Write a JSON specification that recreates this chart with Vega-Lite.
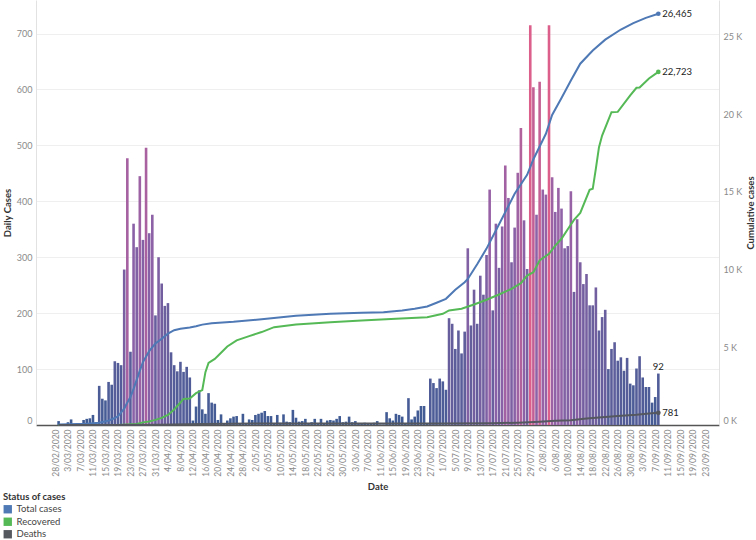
{
"$schema": "https://vega.github.io/schema/vega-lite/v6.json",
"width": 683, "height": 425,
"autosize": "none",
"padding": {"left": 36, "top": 0, "right": 37, "bottom": 115},
"background": "white",
"config": {"font": "Lato", "view": {"stroke": null}},
"datasets": {
"daily": [
{"date":"2020-02-29","cases":7},{"date":"2020-03-01","cases":0},{"date":"2020-03-02","cases":0},{"date":"2020-03-03","cases":5},{"date":"2020-03-04","cases":10},{"date":"2020-03-05","cases":0},{"date":"2020-03-06","cases":2},{"date":"2020-03-07","cases":0},{"date":"2020-03-08","cases":9},{"date":"2020-03-09","cases":11},{"date":"2020-03-10","cases":12},{"date":"2020-03-11","cases":18},{"date":"2020-03-12","cases":0},{"date":"2020-03-13","cases":70},{"date":"2020-03-14","cases":47},{"date":"2020-03-15","cases":44},{"date":"2020-03-16","cases":77},{"date":"2020-03-17","cases":72},{"date":"2020-03-18","cases":114},{"date":"2020-03-19","cases":111},{"date":"2020-03-20","cases":107},{"date":"2020-03-21","cases":278},{"date":"2020-03-22","cases":477},{"date":"2020-03-23","cases":131},{"date":"2020-03-24","cases":360},{"date":"2020-03-25","cases":318},{"date":"2020-03-26","cases":445},{"date":"2020-03-27","cases":331},{"date":"2020-03-28","cases":496},{"date":"2020-03-29","cases":343},{"date":"2020-03-30","cases":376},{"date":"2020-03-31","cases":196},
{"date":"2020-04-01","cases":300},{"date":"2020-04-02","cases":253},{"date":"2020-04-03","cases":213},{"date":"2020-04-04","cases":218},{"date":"2020-04-05","cases":130},{"date":"2020-04-06","cases":107},{"date":"2020-04-07","cases":96},{"date":"2020-04-08","cases":113},{"date":"2020-04-09","cases":95},{"date":"2020-04-10","cases":104},{"date":"2020-04-11","cases":85},{"date":"2020-04-12","cases":8},{"date":"2020-04-13","cases":33},{"date":"2020-04-14","cases":62},{"date":"2020-04-15","cases":28},{"date":"2020-04-16","cases":20},{"date":"2020-04-17","cases":57},{"date":"2020-04-18","cases":40},{"date":"2020-04-19","cases":38},{"date":"2020-04-20","cases":9},{"date":"2020-04-21","cases":19},{"date":"2020-04-22","cases":3},{"date":"2020-04-23","cases":8},{"date":"2020-04-24","cases":12},{"date":"2020-04-25","cases":15},{"date":"2020-04-26","cases":16},{"date":"2020-04-27","cases":2},{"date":"2020-04-28","cases":20},{"date":"2020-04-29","cases":3},{"date":"2020-04-30","cases":10},
{"date":"2020-05-01","cases":9},{"date":"2020-05-02","cases":18},{"date":"2020-05-03","cases":20},{"date":"2020-05-04","cases":22},{"date":"2020-05-05","cases":25},{"date":"2020-05-06","cases":16},{"date":"2020-05-07","cases":16},{"date":"2020-05-08","cases":2},{"date":"2020-05-09","cases":18},{"date":"2020-05-10","cases":4},{"date":"2020-05-11","cases":19},{"date":"2020-05-12","cases":6},{"date":"2020-05-13","cases":5},{"date":"2020-05-14","cases":27},{"date":"2020-05-15","cases":13},{"date":"2020-05-16","cases":6},{"date":"2020-05-17","cases":7},{"date":"2020-05-18","cases":11},{"date":"2020-05-19","cases":2},{"date":"2020-05-20","cases":5},{"date":"2020-05-21","cases":11},{"date":"2020-05-22","cases":3},{"date":"2020-05-23","cases":11},{"date":"2020-05-24","cases":2},{"date":"2020-05-25","cases":8},{"date":"2020-05-26","cases":9},{"date":"2020-05-27","cases":8},{"date":"2020-05-28","cases":11},{"date":"2020-05-29","cases":16},{"date":"2020-05-30","cases":5},{"date":"2020-05-31","cases":6},
{"date":"2020-06-01","cases":15},{"date":"2020-06-02","cases":5},{"date":"2020-06-03","cases":7},{"date":"2020-06-04","cases":3},{"date":"2020-06-05","cases":2},{"date":"2020-06-06","cases":4},{"date":"2020-06-07","cases":3},{"date":"2020-06-08","cases":2},{"date":"2020-06-09","cases":4},{"date":"2020-06-10","cases":7},{"date":"2020-06-11","cases":1},{"date":"2020-06-12","cases":1},{"date":"2020-06-13","cases":23},{"date":"2020-06-14","cases":12},{"date":"2020-06-15","cases":8},{"date":"2020-06-16","cases":20},{"date":"2020-06-17","cases":18},{"date":"2020-06-18","cases":15},{"date":"2020-06-19","cases":2},{"date":"2020-06-20","cases":48},{"date":"2020-06-21","cases":10},{"date":"2020-06-22","cases":15},{"date":"2020-06-23","cases":26},{"date":"2020-06-24","cases":34},{"date":"2020-06-25","cases":34},{"date":"2020-06-26","cases":2},{"date":"2020-06-27","cases":83},{"date":"2020-06-28","cases":75},{"date":"2020-06-29","cases":66},{"date":"2020-06-30","cases":83},
{"date":"2020-07-01","cases":78},{"date":"2020-07-02","cases":63},{"date":"2020-07-03","cases":191},{"date":"2020-07-04","cases":181},{"date":"2020-07-05","cases":136},{"date":"2020-07-06","cases":169},{"date":"2020-07-07","cases":128},{"date":"2020-07-08","cases":167},{"date":"2020-07-09","cases":316},{"date":"2020-07-10","cases":178},{"date":"2020-07-11","cases":242},{"date":"2020-07-12","cases":181},{"date":"2020-07-13","cases":267},{"date":"2020-07-14","cases":233},{"date":"2020-07-15","cases":304},{"date":"2020-07-16","cases":421},{"date":"2020-07-17","cases":205},{"date":"2020-07-18","cases":360},{"date":"2020-07-19","cases":281},{"date":"2020-07-20","cases":355},{"date":"2020-07-21","cases":464},{"date":"2020-07-22","cases":406},{"date":"2020-07-23","cases":291},{"date":"2020-07-24","cases":353},{"date":"2020-07-25","cases":451},{"date":"2020-07-26","cases":531},{"date":"2020-07-27","cases":366},{"date":"2020-07-28","cases":279},{"date":"2020-07-29","cases":715},{"date":"2020-07-30","cases":604},{"date":"2020-07-31","cases":376},
{"date":"2020-08-01","cases":614},{"date":"2020-08-02","cases":421},{"date":"2020-08-03","cases":412},{"date":"2020-08-04","cases":715},{"date":"2020-08-05","cases":443},{"date":"2020-08-06","cases":381},{"date":"2020-08-07","cases":424},{"date":"2020-08-08","cases":387},{"date":"2020-08-09","cases":316},{"date":"2020-08-10","cases":320},{"date":"2020-08-11","cases":418},{"date":"2020-08-12","cases":238},{"date":"2020-08-13","cases":368},{"date":"2020-08-14","cases":291},{"date":"2020-08-15","cases":252},{"date":"2020-08-16","cases":270},{"date":"2020-08-17","cases":214},{"date":"2020-08-18","cases":214},{"date":"2020-08-19","cases":246},{"date":"2020-08-20","cases":169},{"date":"2020-08-21","cases":193},{"date":"2020-08-22","cases":206},{"date":"2020-08-23","cases":100},{"date":"2020-08-24","cases":136},{"date":"2020-08-25","cases":148},{"date":"2020-08-26","cases":115},{"date":"2020-08-27","cases":121},{"date":"2020-08-28","cases":97},{"date":"2020-08-29","cases":120},{"date":"2020-08-30","cases":74},{"date":"2020-08-31","cases":71},
{"date":"2020-09-01","cases":101},{"date":"2020-09-02","cases":123},{"date":"2020-09-03","cases":85},{"date":"2020-09-04","cases":68},{"date":"2020-09-05","cases":68},{"date":"2020-09-06","cases":40},{"date":"2020-09-07","cases":50},{"date":"2020-09-08","cases":92}
],
"cum": [
{"date":"2020-02-29","status":"Total cases","value":25},{"date":"2020-03-09","status":"Total cases","value":80},{"date":"2020-03-13","status":"Total cases","value":150},{"date":"2020-03-16","status":"Total cases","value":280},{"date":"2020-03-18","status":"Total cases","value":450},{"date":"2020-03-19","status":"Total cases","value":560},{"date":"2020-03-21","status":"Total cases","value":1050},{"date":"2020-03-22","status":"Total cases","value":1450},{"date":"2020-03-23","status":"Total cases","value":1800},{"date":"2020-03-24","status":"Total cases","value":2320},{"date":"2020-03-25","status":"Total cases","value":2900},{"date":"2020-03-26","status":"Total cases","value":3500},{"date":"2020-03-27","status":"Total cases","value":4050},{"date":"2020-03-29","status":"Total cases","value":4750},{"date":"2020-03-31","status":"Total cases","value":5250},{"date":"2020-04-02","status":"Total cases","value":5550},{"date":"2020-04-04","status":"Total cases","value":5880},{"date":"2020-04-06","status":"Total cases","value":6100},{"date":"2020-04-08","status":"Total cases","value":6200},{"date":"2020-04-11","status":"Total cases","value":6280},{"date":"2020-04-13","status":"Total cases","value":6360},{"date":"2020-04-15","status":"Total cases","value":6460},{"date":"2020-04-18","status":"Total cases","value":6550},{"date":"2020-04-25","status":"Total cases","value":6640},{"date":"2020-05-04","status":"Total cases","value":6800},{"date":"2020-05-15","status":"Total cases","value":7030},{"date":"2020-05-26","status":"Total cases","value":7160},{"date":"2020-06-05","status":"Total cases","value":7220},{"date":"2020-06-12","status":"Total cases","value":7260},{"date":"2020-06-18","status":"Total cases","value":7370},{"date":"2020-06-22","status":"Total cases","value":7480},{"date":"2020-06-26","status":"Total cases","value":7630},{"date":"2020-06-29","status":"Total cases","value":7870},{"date":"2020-07-02","status":"Total cases","value":8120},{"date":"2020-07-05","status":"Total cases","value":8700},{"date":"2020-07-08","status":"Total cases","value":9190},{"date":"2020-07-09","status":"Total cases","value":9400},{"date":"2020-07-12","status":"Total cases","value":10350},{"date":"2020-07-15","status":"Total cases","value":11350},{"date":"2020-07-20","status":"Total cases","value":13300},{"date":"2020-07-24","status":"Total cases","value":14880},{"date":"2020-07-28","status":"Total cases","value":16100},{"date":"2020-07-30","status":"Total cases","value":17100},{"date":"2020-08-03","status":"Total cases","value":18740},{"date":"2020-08-05","status":"Total cases","value":19950},{"date":"2020-08-08","status":"Total cases","value":21050},{"date":"2020-08-11","status":"Total cases","value":22170},{"date":"2020-08-14","status":"Total cases","value":23250},{"date":"2020-08-18","status":"Total cases","value":24100},{"date":"2020-08-22","status":"Total cases","value":24800},{"date":"2020-08-27","status":"Total cases","value":25450},{"date":"2020-08-31","status":"Total cases","value":25860},{"date":"2020-09-04","status":"Total cases","value":26200},{"date":"2020-09-08","status":"Total cases","value":26465},
{"date":"2020-02-29","status":"Recovered","value":0},{"date":"2020-03-19","status":"Recovered","value":0},{"date":"2020-03-25","status":"Recovered","value":60},{"date":"2020-03-27","status":"Recovered","value":170},{"date":"2020-03-29","status":"Recovered","value":230},{"date":"2020-03-31","status":"Recovered","value":330},{"date":"2020-04-02","status":"Recovered","value":460},{"date":"2020-04-04","status":"Recovered","value":650},{"date":"2020-04-06","status":"Recovered","value":1000},{"date":"2020-04-08","status":"Recovered","value":1450},{"date":"2020-04-09","status":"Recovered","value":1680},{"date":"2020-04-11","status":"Recovered","value":1700},{"date":"2020-04-13","status":"Recovered","value":2050},{"date":"2020-04-15","status":"Recovered","value":2250},{"date":"2020-04-16","status":"Recovered","value":3400},{"date":"2020-04-17","status":"Recovered","value":4000},{"date":"2020-04-19","status":"Recovered","value":4250},{"date":"2020-04-21","status":"Recovered","value":4650},{"date":"2020-04-23","status":"Recovered","value":5050},{"date":"2020-04-26","status":"Recovered","value":5450},{"date":"2020-04-30","status":"Recovered","value":5720},{"date":"2020-05-04","status":"Recovered","value":5980},{"date":"2020-05-08","status":"Recovered","value":6295},{"date":"2020-05-15","status":"Recovered","value":6470},{"date":"2020-05-26","status":"Recovered","value":6620},{"date":"2020-06-05","status":"Recovered","value":6725},{"date":"2020-06-16","status":"Recovered","value":6835},{"date":"2020-06-26","status":"Recovered","value":6940},{"date":"2020-07-01","status":"Recovered","value":7155},{"date":"2020-07-03","status":"Recovered","value":7370},{"date":"2020-07-07","status":"Recovered","value":7480},{"date":"2020-07-11","status":"Recovered","value":7755},{"date":"2020-07-15","status":"Recovered","value":8060},{"date":"2020-07-19","status":"Recovered","value":8400},{"date":"2020-07-23","status":"Recovered","value":8765},{"date":"2020-07-26","status":"Recovered","value":9130},{"date":"2020-07-28","status":"Recovered","value":9620},{"date":"2020-07-30","status":"Recovered","value":9835},{"date":"2020-08-01","status":"Recovered","value":10590},{"date":"2020-08-04","status":"Recovered","value":11020},{"date":"2020-08-06","status":"Recovered","value":11550},{"date":"2020-08-08","status":"Recovered","value":11985},{"date":"2020-08-10","status":"Recovered","value":12600},{"date":"2020-08-12","status":"Recovered","value":13200},{"date":"2020-08-14","status":"Recovered","value":13650},{"date":"2020-08-17","status":"Recovered","value":15135},{"date":"2020-08-18","status":"Recovered","value":15200},{"date":"2020-08-19","status":"Recovered","value":16500},{"date":"2020-08-20","status":"Recovered","value":17880},{"date":"2020-08-21","status":"Recovered","value":18630},{"date":"2020-08-24","status":"Recovered","value":20130},{"date":"2020-08-26","status":"Recovered","value":20150},{"date":"2020-08-30","status":"Recovered","value":21205},{"date":"2020-09-01","status":"Recovered","value":21700},{"date":"2020-09-02","status":"Recovered","value":21720},{"date":"2020-09-05","status":"Recovered","value":22300},{"date":"2020-09-08","status":"Recovered","value":22723},
{"date":"2020-02-29","status":"Deaths","value":0},{"date":"2020-03-01","status":"Deaths","value":1},{"date":"2020-03-19","status":"Deaths","value":6},{"date":"2020-04-01","status":"Deaths","value":19},{"date":"2020-04-15","status":"Deaths","value":63},{"date":"2020-05-01","status":"Deaths","value":93},{"date":"2020-06-01","status":"Deaths","value":103},{"date":"2020-07-01","status":"Deaths","value":104},{"date":"2020-07-17","status":"Deaths","value":116},{"date":"2020-07-25","status":"Deaths","value":150},{"date":"2020-08-01","status":"Deaths","value":208},{"date":"2020-08-06","status":"Deaths","value":266},{"date":"2020-08-11","status":"Deaths","value":313},{"date":"2020-08-16","status":"Deaths","value":421},{"date":"2020-08-21","status":"Deaths","value":502},{"date":"2020-08-26","status":"Deaths","value":583},{"date":"2020-09-01","status":"Deaths","value":663},{"date":"2020-09-05","status":"Deaths","value":737},{"date":"2020-09-08","status":"Deaths","value":781}
]
},
"encoding": {
"x": {"field": "date", "type": "temporal", "title": "Date",
"scale": {"type": "utc", "domain": [{"year":2020,"month":2,"date":23,"hours":8,"minutes":43,"utc":true},{"year":2020,"month":9,"date":25,"hours":19,"minutes":41,"utc":true}]},
"axis": {"format": "%-d/%m/%Y", "labelAngle": -90, "labelFontSize": 8.5, "labelColor": "#8a8a8a", "labelPadding": 4, "labelOverlap": false, "labelFlush": false, "ticks": false, "grid": false, "domainColor": "#555555", "domainWidth": 1.5, "titleFontSize": 9.5, "titleFontWeight": "bold", "titleColor": "#333333", "titlePadding": 5,
"values": [{"year":2020,"month":2,"date":28,"utc":true},{"year":2020,"month":3,"date":3,"utc":true},{"year":2020,"month":3,"date":7,"utc":true},{"year":2020,"month":3,"date":11,"utc":true},{"year":2020,"month":3,"date":15,"utc":true},{"year":2020,"month":3,"date":19,"utc":true},{"year":2020,"month":3,"date":23,"utc":true},{"year":2020,"month":3,"date":27,"utc":true},{"year":2020,"month":3,"date":31,"utc":true},{"year":2020,"month":4,"date":4,"utc":true},{"year":2020,"month":4,"date":8,"utc":true},{"year":2020,"month":4,"date":12,"utc":true},{"year":2020,"month":4,"date":16,"utc":true},{"year":2020,"month":4,"date":20,"utc":true},{"year":2020,"month":4,"date":24,"utc":true},{"year":2020,"month":4,"date":28,"utc":true},{"year":2020,"month":5,"date":2,"utc":true},{"year":2020,"month":5,"date":6,"utc":true},{"year":2020,"month":5,"date":10,"utc":true},{"year":2020,"month":5,"date":14,"utc":true},{"year":2020,"month":5,"date":18,"utc":true},{"year":2020,"month":5,"date":22,"utc":true},{"year":2020,"month":5,"date":26,"utc":true},{"year":2020,"month":5,"date":30,"utc":true},{"year":2020,"month":6,"date":3,"utc":true},{"year":2020,"month":6,"date":7,"utc":true},{"year":2020,"month":6,"date":11,"utc":true},{"year":2020,"month":6,"date":15,"utc":true},{"year":2020,"month":6,"date":19,"utc":true},{"year":2020,"month":6,"date":23,"utc":true},{"year":2020,"month":6,"date":27,"utc":true},{"year":2020,"month":7,"date":1,"utc":true},{"year":2020,"month":7,"date":5,"utc":true},{"year":2020,"month":7,"date":9,"utc":true},{"year":2020,"month":7,"date":13,"utc":true},{"year":2020,"month":7,"date":17,"utc":true},{"year":2020,"month":7,"date":21,"utc":true},{"year":2020,"month":7,"date":25,"utc":true},{"year":2020,"month":7,"date":29,"utc":true},{"year":2020,"month":8,"date":2,"utc":true},{"year":2020,"month":8,"date":6,"utc":true},{"year":2020,"month":8,"date":10,"utc":true},{"year":2020,"month":8,"date":14,"utc":true},{"year":2020,"month":8,"date":18,"utc":true},{"year":2020,"month":8,"date":22,"utc":true},{"year":2020,"month":8,"date":26,"utc":true},{"year":2020,"month":8,"date":30,"utc":true},{"year":2020,"month":9,"date":3,"utc":true},{"year":2020,"month":9,"date":7,"utc":true},{"year":2020,"month":9,"date":11,"utc":true},{"year":2020,"month":9,"date":15,"utc":true},{"year":2020,"month":9,"date":19,"utc":true},{"year":2020,"month":9,"date":23,"utc":true}]}}
},
"layer": [
{
"data": {"name": "daily"},
"encoding": {
"y": {"field": "cases", "type": "quantitative", "title": "Daily Cases",
"scale": {"domain": [0, 760], "nice": false},
"axis": {"orient": "left", "values": [0,100,200,300,400,500,600,700], "grid": true, "gridColor": "#efefef", "ticks": false, "domainColor": "#e2e2e2", "labelColor": "#8a8a8a", "labelFontSize": 9, "labelPadding": 4, "labelFlush": true, "titleFontSize": 9.5, "titleFontWeight": "bold", "titleColor": "#333333", "titlePadding": 4}}
},
"layer": [
{
"mark": {"type": "bar", "size": 2.6},
"encoding": {
"color": {"field": "cases", "type": "quantitative", "legend": null,
"scale": {"domain": [0, 400, 715], "range": ["#3d5b93", "#9362a8", "#dc5f8b"], "interpolate": "rgb"}}
}
},
{
"transform": [{"filter": "time(datum.date) == utc(2020, 8, 8)"}],
"mark": {"type": "text", "baseline": "bottom", "dy": -2, "fontSize": 9.5, "color": "#222222"},
"encoding": {
"text": {"field": "cases", "type": "quantitative"}
}
}
]
},
{
"data": {"name": "cum"},
"encoding": {
"y": {"field": "value", "type": "quantitative", "title": "Cumulative cases",
"scale": {"domain": [0, 27350], "nice": false},
"axis": {"orient": "right", "values": [0,5000,10000,15000,20000,25000], "labelExpr": "(datum.value / 1000) + ' K'", "grid": false, "ticks": false, "domainColor": "#e2e2e2", "labelColor": "#8a8a8a", "labelFontSize": 9, "labelPadding": 4, "labelFlush": true, "titleFontSize": 9.5, "titleFontWeight": "bold", "titleColor": "#333333", "titleAngle": 270, "titleBaseline": "top", "titlePadding": 4}}
},
"layer": [
{
"transform": [{"filter": "time(datum.date) == utc(2020, 8, 8)"}],
"mark": {"type": "point", "filled": true, "size": 22, "opacity": 1},
"encoding": {
"color": {"field": "status", "type": "nominal", "title": "Status of cases",
"scale": {"domain": ["Total cases", "Recovered", "Deaths"], "range": ["#4e79b5", "#55b956", "#55585f"]},
"legend": {"orient": "none", "legendX": -33, "legendY": 492, "symbolType": "square", "symbolSize": 70, "symbolStrokeWidth": 0, "titleFontSize": 9.5, "titleFontWeight": "bold", "titleColor": "#333333", "titlePadding": 3, "labelFontSize": 9.5, "labelColor": "#444444", "labelOffset": 4, "rowPadding": 1.5}}
}
},
{
"mark": {"type": "line", "strokeWidth": 2},
"encoding": {
"color": {"field": "status", "type": "nominal", "title": "Status of cases", "legend": null}
}
},
{
"transform": [{"filter": "time(datum.date) == utc(2020, 8, 8)"}],
"mark": {"type": "text", "align": "left", "dx": 4, "fontSize": 9.5, "color": "#222222"},
"encoding": {
"text": {"field": "value", "type": "quantitative", "format": ","}
}
}
]
}
],
"resolve": {"scale": {"y": "independent", "color": "independent"}}
}
